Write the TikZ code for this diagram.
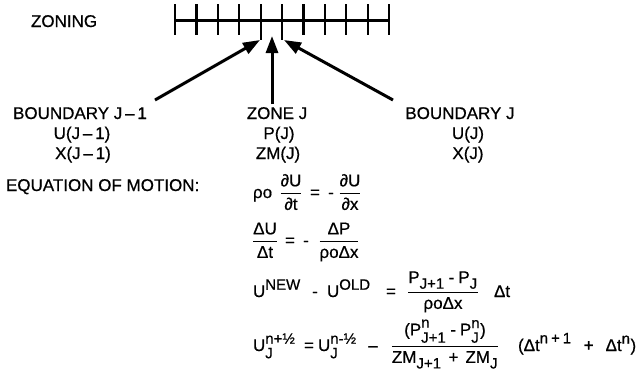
\documentclass[tikz,border=0pt]{standalone}
\usepackage{amsmath}
\usepackage{fontspec}
\setmainfont{Liberation Sans}[FakeBold=0.6]
\DeclareMathSizes{17}{17}{15}{10}
\usetikzlibrary{arrows.meta}
\newcommand\tx[1]{\text{#1}}
\newcommand\lo[1]{\text{\raisebox{-3pt}{#1}}}
\newcommand\hi[1]{\text{\raisebox{1pt}{#1}}}
\newcommand\fr[2]{\genfrac{}{}{1.1pt}{0}{#1}{#2}}
\begin{document}
\begin{tikzpicture}[x=1pt,y=-1pt,
  every node/.style={inner sep=0pt,outer sep=0pt,font=\fontsize{17}{20}\selectfont},
  lbl/.style={anchor=base},
  lft/.style={anchor=base west},
  arr/.style={line width=3pt,-{Triangle[length=17pt,width=12pt]}},
  tickmark/.style={line width=2.2pt}]
\useasboundingbox (0,0) rectangle (642,389);
% zoning bar
\draw[line width=3pt] (175,20) -- (389,20);
\foreach \i in {0,1,2,3,6,7,8,9,10}
  \draw[tickmark] (175+21.4*\i,4) -- (175+21.4*\i,35);
\draw[tickmark] (175+21.4*4,4) -- (175+21.4*4,40);
\draw[tickmark] (175+21.4*5,4) -- (175+21.4*5,40);
\coordinate (tipL) at (260,40);
\coordinate (tipZ) at (272,36);
\coordinate (tipR) at (284,40);
\node[lft] (zoning) at (31,27) {ZONING};
% labels
\node[lbl] (bj1) at (80,119) {BOUNDARY J\,–\,1};
\node[lbl] (uj1) at (82,139) {U(J\,–\,1)};
\node[lbl] (xj1) at (83,159) {X(J\,–\,1)};
\node[lbl] (zj) at (277,119) {ZONE J};
\node[lbl] (pj) at (279,139) {P(J)};
\node[lbl] (zmj) at (278,159) {ZM(J)};
\node[lbl] (bj) at (460,119) {BOUNDARY J};
\node[lbl] (uj) at (468,139) {U(J)};
\node[lbl] (xj) at (468,159) {X(J)};
\coordinate (startL) at (155,100);
\coordinate (startZ) at (272,104);
\coordinate (startR) at (393,100);
\draw[arr] (startL) -- (tipL);
\draw[arr] (startZ) -- (tipZ);
\draw[arr] (startR) -- (tipR);
% equation of motion
\node[lft] (eqm) at (6,191) {EQUATION OF MOTION:};
% eq 1
\node[lft] (e1a) at (253,198) {ρo};
\node[lbl] (e1b) at (291,198) {$\fr{\tx{∂U}}{\tx{∂t}}$};
\node[lbl] (e1c) at (315,198) {=};
\node[lbl] (e1d) at (331,198) {-};
\node[lbl] (e1e) at (350,198) {$\fr{\tx{∂U}}{\tx{∂x}}$};
% eq 2
\node[lbl] (e2a) at (265,246) {$\fr{\tx{ΔU}}{\tx{Δt}}$};
\node[lbl] (e2b) at (290,246) {=};
\node[lbl] (e2c) at (306,246) {-};
\node[lbl] (e2d) at (339,246) {$\fr{\tx{ΔP}}{\tx{ρoΔx}}$};
% eq 3
\node[lft] (e3a) at (253,297) {$\tx{U}^{\hi{NEW}}$};
\node[lbl] (e3b) at (315,297) {-};
\node[lft] (e3c) at (327,297) {$\tx{U}^{\hi{OLD}}$};
\node[lbl] (e3d) at (391,297) {=};
\node[lbl] (e3e) at (443,297) {$\fr{\tx{P}_{\lo{J+1}}\hspace{4pt}\tx{-}\hspace{4pt}\tx{P}_{\lo{J}}}{\tx{ρoΔx}}$};
\node[lft] (e3f) at (494,297) {Δt};
% eq 4
\node[lft] (e4a) at (253,351) {$\tx{U}^{\hi{n+½}}_{\lo{J}}$};
\node[lbl] (e4b) at (309,351) {=};
\node[lft] (e4c) at (318,351) {$\tx{U}^{\hi{n-½}}_{\lo{J}}$};
\node[lbl] (e4d) at (373,351) {–};
\node[lbl] (e4e) at (445,351) {$\fr{\tx{(P}^{\hi{n}}_{\lo{J+1}}\hspace{4pt}\tx{-}\hspace{4pt}\tx{P}^{\hi{n}}_{\lo{J}}\tx{)}}{\tx{ZM}_{\lo{J+1}}\hspace{7pt}\tx{+}\hspace{7pt}\tx{ZM}_{\lo{J}}}$};
\node[lft] (e4f) at (518,351) {$\tx{(Δt}^{\hi{n\hspace{3pt}+\hspace{3pt}1}}\hspace{12pt}\tx{+}\hspace{12pt}\tx{Δt}^{\hi{n}}\tx{)}$};
\end{tikzpicture}
\end{document}
